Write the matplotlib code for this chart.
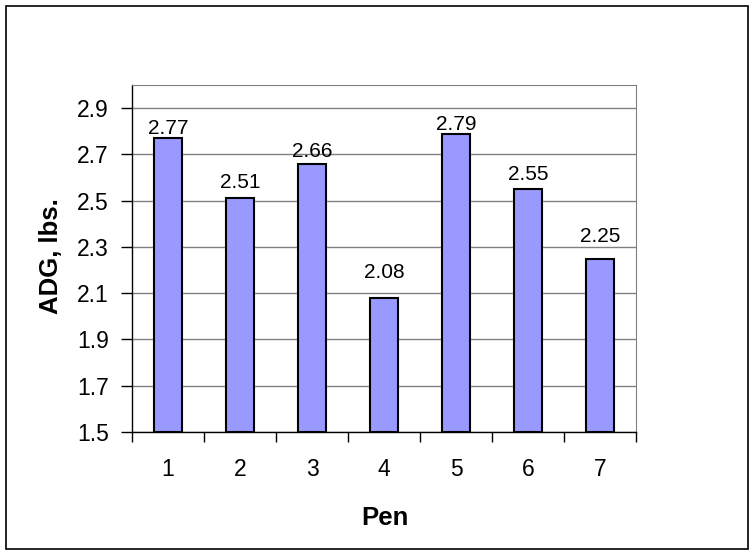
import matplotlib
matplotlib.use("Agg")
import matplotlib.pyplot as plt
from matplotlib.patches import Rectangle

pens = ["1", "2", "3", "4", "5", "6", "7"]
adg = [2.77, 2.51, 2.66, 2.08, 2.79, 2.55, 2.25]
yticks = [1.5, 1.7, 1.9, 2.1, 2.3, 2.5, 2.7, 2.9]

plt.rcParams['font.family'] = ['Liberation Sans', 'DejaVu Sans']

W, H = 753, 554
fig = plt.figure(figsize=(W / 100, H / 100), dpi=100)
fig.patches.append(Rectangle((5.5 / W, 5.5 / H), (W - 11) / W, (H - 11) / H,
                             transform=fig.transFigure, fill=False,
                             edgecolor='black', linewidth=1.2))

left, right, top, bottom = 132, 636, 85, 432
ax = fig.add_axes([left / W, 1 - bottom / H, (right - left) / W, (bottom - top) / H])

x = list(range(len(pens)))
ax.bar(x, [v - 1.5 for v in adg], bottom=1.5, width=0.39,
       color='#9999ff', edgecolor='black', linewidth=1.5, zorder=3)
vmax = max(adg)
for xi, v in zip(x, adg):
    ax.text(xi, v + 0.017 + (vmax - v) * 0.0986, f"{v:.2f}",
            ha='center', va='baseline', fontsize=15)

ax.set_xlim(-0.5, len(pens) - 0.5)
ax.set_ylim(1.5, 3.0)
ax.set_yticks(yticks)
ax.set_yticklabels([f"{t:.1f}" for t in yticks], fontsize=16.5)
ax.yaxis.grid(True, color='#808080', linewidth=1.0, zorder=0)
ax.set_axisbelow(True)

ax.set_xticks([i - 0.5 for i in range(len(pens) + 1)], minor=False)
ax.set_xticklabels([])
ax.set_xticks(x, minor=True)
ax.set_xticklabels(pens, minor=True, fontsize=16.5)
ax.tick_params(axis='x', which='major', length=7, direction='out', width=1)
ax.tick_params(axis='x', which='minor', length=0, pad=19)
ax.tick_params(axis='y', length=8, direction='out', width=1, pad=8.6)

for s in ['top', 'right']:
    ax.spines[s].set_color('#808080')
for s in ['left', 'bottom']:
    ax.spines[s].set_color('black')
    ax.spines[s].set_linewidth(1.0)

ax.set_ylabel("ADG, lbs.", fontsize=18.5, fontweight='bold')
ax.yaxis.set_label_coords(-0.137, 0.506)
ax.set_xlabel("Pen", fontsize=18.5, fontweight='bold')
ax.xaxis.set_label_coords(0.502, -0.213)

fig.savefig("out.png", dpi=100)
